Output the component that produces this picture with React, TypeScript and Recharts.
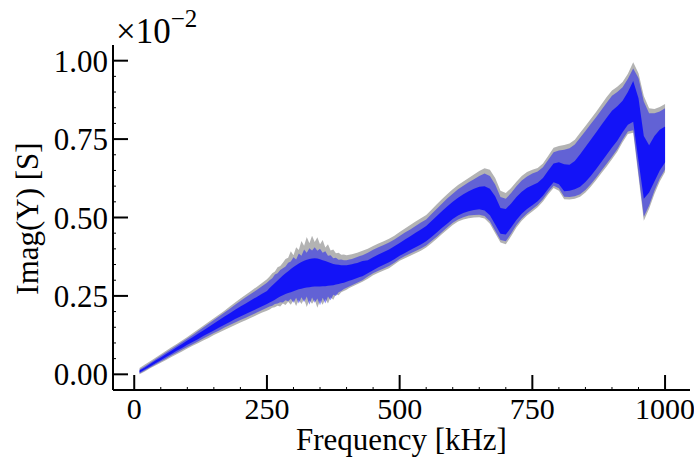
import { ComposedChart, Area, XAxis, YAxis } from "recharts";

// frequency grid [kHz]; finer where the curves are noisy
const freq = [
  10, 20, 30, 40, 50, 60, 70, 80, 90, 100, 110, 120, 130, 140, 150, 160, 170, 180, 190, 200, 210, 220, 230, 240, 250,
  255, 260, 265, 270, 275, 280, 285, 290, 295, 300, 305, 310, 315, 320, 325, 330, 335, 340, 345, 350, 355, 360, 365,
  370, 375, 380, 385, 390, 395, 400, 405, 410, 415, 420, 425, 430,
  440, 450, 460, 470, 480, 490, 500, 510, 520, 530, 540, 550, 560, 570, 580, 590, 600, 610, 620, 630, 640, 650, 660,
  670, 680, 690, 700, 710, 720, 730, 740, 750, 760, 770, 780, 790, 800, 810, 820, 830, 840, 850, 860, 870, 880, 890,
  900, 910, 920, 930, 940, 950, 960, 970, 980, 990, 1000,
];

// grey envelope (x1e-2 S)
const greyLo = [
  0.0, 0.009, 0.019, 0.028, 0.037, 0.046, 0.055, 0.064, 0.073, 0.082, 0.091, 0.099, 0.108, 0.116, 0.125, 0.133, 0.141,
  0.149, 0.157, 0.165, 0.172, 0.18, 0.188, 0.196, 0.203,
  0.207, 0.212, 0.214, 0.219, 0.216, 0.226, 0.221, 0.231, 0.222, 0.236, 0.218, 0.238, 0.224, 0.24, 0.215, 0.236, 0.225,
  0.238, 0.212, 0.236, 0.222, 0.24, 0.226, 0.246, 0.238, 0.255, 0.252, 0.262, 0.266, 0.27, 0.275, 0.279, 0.283, 0.287,
  0.291, 0.295,
  0.305, 0.316, 0.324, 0.331, 0.338, 0.35, 0.362, 0.37, 0.378, 0.386, 0.394, 0.404, 0.418, 0.432, 0.447, 0.462, 0.476,
  0.487, 0.494, 0.498, 0.5, 0.501, 0.497, 0.48, 0.45, 0.42, 0.415, 0.44, 0.468, 0.49, 0.506, 0.519, 0.533, 0.551, 0.574,
  0.594, 0.585, 0.558, 0.557, 0.56, 0.566, 0.58, 0.598, 0.619, 0.641, 0.663, 0.686, 0.71, 0.74, 0.766, 0.77, 0.63, 0.49,
  0.528, 0.575, 0.615, 0.645,
];
const greyHi = [
  0.02, 0.031, 0.042, 0.053, 0.064, 0.075, 0.086, 0.097, 0.108, 0.119, 0.131, 0.143, 0.155, 0.167, 0.179, 0.191, 0.203,
  0.216, 0.229, 0.242, 0.254, 0.266, 0.278, 0.29, 0.303,
  0.312, 0.322, 0.328, 0.341, 0.345, 0.356, 0.368, 0.372, 0.392, 0.38, 0.405, 0.396, 0.425, 0.41, 0.438, 0.418, 0.442,
  0.422, 0.437, 0.415, 0.428, 0.404, 0.415, 0.395, 0.398, 0.386, 0.388, 0.381, 0.382, 0.38, 0.381, 0.383, 0.385, 0.388,
  0.391, 0.394,
  0.4, 0.409, 0.417, 0.424, 0.432, 0.442, 0.454, 0.465, 0.476, 0.487, 0.498, 0.508, 0.525, 0.542, 0.559, 0.575, 0.59,
  0.604, 0.615, 0.626, 0.637, 0.648, 0.657, 0.652, 0.626, 0.585, 0.578, 0.594, 0.614, 0.632, 0.645, 0.652, 0.658, 0.672,
  0.697, 0.722, 0.728, 0.731, 0.736, 0.748, 0.77, 0.792, 0.814, 0.836, 0.86, 0.884, 0.905, 0.917, 0.932, 0.958, 0.995,
  0.96, 0.887, 0.848, 0.846, 0.852, 0.862,
];

// spread of the blue sample curves
const blueLo = [
  0.003, 0.012, 0.022, 0.031, 0.041, 0.05, 0.06, 0.069, 0.078, 0.087, 0.096, 0.105, 0.114, 0.123, 0.132, 0.14, 0.149,
  0.157, 0.165, 0.173, 0.18, 0.188, 0.196, 0.204, 0.212,
  0.216, 0.219, 0.224, 0.226, 0.23, 0.229, 0.236, 0.233, 0.241, 0.228, 0.244, 0.226, 0.246, 0.23, 0.248, 0.222, 0.245,
  0.228, 0.242, 0.22, 0.244, 0.226, 0.248, 0.236, 0.254, 0.25, 0.262, 0.266, 0.272, 0.276, 0.28, 0.284, 0.288, 0.292,
  0.296, 0.3,
  0.312, 0.322, 0.33, 0.337, 0.345, 0.356, 0.368, 0.377, 0.385, 0.393, 0.401, 0.411, 0.425, 0.439, 0.454, 0.469, 0.483,
  0.494, 0.501, 0.506, 0.508, 0.509, 0.505, 0.488, 0.458, 0.428, 0.424, 0.449, 0.476, 0.497, 0.513, 0.526, 0.54, 0.558,
  0.581, 0.601, 0.593, 0.566, 0.565, 0.568, 0.574, 0.588, 0.606, 0.627, 0.649, 0.671, 0.694, 0.718, 0.748, 0.774, 0.778,
  0.64, 0.502, 0.538, 0.585, 0.624, 0.653,
];
const blueHi = [
  0.015, 0.026, 0.037, 0.048, 0.059, 0.07, 0.081, 0.092, 0.103, 0.114, 0.125, 0.137, 0.149, 0.161, 0.173, 0.185, 0.197,
  0.209, 0.222, 0.234, 0.246, 0.257, 0.268, 0.28, 0.292,
  0.3, 0.306, 0.318, 0.322, 0.333, 0.338, 0.344, 0.356, 0.36, 0.373, 0.366, 0.385, 0.378, 0.398, 0.388, 0.402, 0.395,
  0.405, 0.394, 0.4, 0.388, 0.392, 0.378, 0.38, 0.37, 0.372, 0.365, 0.366, 0.364, 0.364, 0.366, 0.368, 0.371, 0.374,
  0.377, 0.38,
  0.388, 0.397, 0.405, 0.412, 0.42, 0.43, 0.441, 0.452, 0.462, 0.473, 0.484, 0.494, 0.511, 0.528, 0.545, 0.561, 0.576,
  0.59, 0.601, 0.612, 0.622, 0.632, 0.64, 0.632, 0.605, 0.565, 0.56, 0.578, 0.6, 0.618, 0.631, 0.64, 0.647, 0.66, 0.684,
  0.708, 0.714, 0.716, 0.721, 0.733, 0.754, 0.776, 0.798, 0.82, 0.843, 0.866, 0.888, 0.9, 0.915, 0.942, 0.975, 0.945,
  0.87, 0.832, 0.832, 0.838, 0.848,
];

// dense core where most curves overlap
const coreLo = [
  0.006, 0.015, 0.025, 0.035, 0.045, 0.055, 0.065, 0.075, 0.084, 0.094, 0.103, 0.112, 0.122, 0.131, 0.14, 0.149, 0.158,
  0.167, 0.176, 0.184, 0.192, 0.2, 0.208, 0.216, 0.224,
  0.229, 0.233, 0.238, 0.243, 0.248, 0.252, 0.256, 0.259, 0.262, 0.265, 0.268, 0.271, 0.273, 0.275, 0.277, 0.278, 0.279,
  0.28, 0.28, 0.28, 0.281, 0.281, 0.282, 0.283, 0.284, 0.286, 0.288, 0.29, 0.292, 0.295, 0.298, 0.301, 0.304, 0.307,
  0.31, 0.313,
  0.322, 0.332, 0.341, 0.349, 0.357, 0.367, 0.378, 0.387, 0.396, 0.405, 0.414, 0.424, 0.438, 0.452, 0.467, 0.481, 0.495,
  0.506, 0.514, 0.52, 0.524, 0.526, 0.522, 0.507, 0.478, 0.448, 0.446, 0.468, 0.492, 0.512, 0.527, 0.539, 0.552, 0.569,
  0.592, 0.612, 0.606, 0.584, 0.585, 0.59, 0.598, 0.613, 0.632, 0.654, 0.677, 0.7, 0.723, 0.745, 0.772, 0.796, 0.805,
  0.68, 0.56, 0.58, 0.615, 0.65, 0.675,
];
const coreHi = [
  0.012, 0.022, 0.033, 0.044, 0.054, 0.065, 0.075, 0.086, 0.097, 0.108, 0.118, 0.129, 0.14, 0.151, 0.162, 0.173, 0.184,
  0.195, 0.206, 0.216, 0.226, 0.236, 0.246, 0.256, 0.266,
  0.275, 0.283, 0.291, 0.299, 0.307, 0.315, 0.322, 0.329, 0.336, 0.342, 0.348, 0.353, 0.358, 0.362, 0.365, 0.368, 0.369,
  0.37, 0.369, 0.367, 0.364, 0.361, 0.358, 0.355, 0.352, 0.35, 0.349, 0.348, 0.348, 0.348, 0.349, 0.351, 0.353, 0.355,
  0.358, 0.361,
  0.364, 0.373, 0.382, 0.39, 0.398, 0.408, 0.419, 0.43, 0.44, 0.451, 0.462, 0.473, 0.489, 0.505, 0.521, 0.536, 0.55,
  0.563, 0.574, 0.584, 0.592, 0.598, 0.6, 0.592, 0.568, 0.53, 0.527, 0.545, 0.565, 0.582, 0.595, 0.603, 0.611, 0.626,
  0.65, 0.672, 0.676, 0.67, 0.668, 0.68, 0.702, 0.725, 0.748, 0.771, 0.795, 0.818, 0.84, 0.855, 0.872, 0.9, 0.935, 0.88,
  0.76, 0.73, 0.76, 0.78, 0.79,
];

const xMajor = [0, 250, 500, 750, 1000];
const xTicks = [0, 50, 100, 150, 200, 250, 300, 350, 400, 450, 500, 550, 600, 650, 700, 750, 800, 850, 900, 950, 1000];
const yMajor = [0, 0.25, 0.5, 0.75, 1];
const yTicks = [0, 0.05, 0.1, 0.15, 0.2, 0.25, 0.3, 0.35, 0.4, 0.45, 0.5, 0.55, 0.6, 0.65, 0.7, 0.75, 0.8, 0.85, 0.9, 0.95, 1];

const data = freq.map((f, i) => ({
  f,
  grey: [greyLo[i], greyHi[i]],
  blue: [blueLo[i], blueHi[i]],
  core: [coreLo[i], coreHi[i]],
}));

const FONT = "'Liberation Serif', 'Times New Roman', serif";

const XTick = ({ x, y, payload }: any) => {
  const major = xMajor.includes(payload.value);
  return (
    <g>
      <line x1={x} x2={x} y1={y} y2={y - (major ? 15 : 3)} stroke="#000" strokeWidth={major ? 2 : 1} />
      {major && (
        <text x={x} y={y + 29} textAnchor="middle" fontSize={30} fontFamily={FONT} fill="#000">
          {payload.value}
        </text>
      )}
    </g>
  );
};

const YTick = ({ x, y, payload }: any) => {
  const major = yMajor.some((v) => Math.abs(v - payload.value) < 1e-9);
  return (
    <g>
      <line x1={x} x2={x + (major ? 15 : 3)} y1={y} y2={y} stroke="#000" strokeWidth={major ? 2 : 1} />
      {major && (
        <text x={x - 5} y={y} dy="0.36em" textAnchor="end" fontSize={31} fontFamily={FONT} fill="#000">
          {payload.value.toFixed(2)}
        </text>
      )}
    </g>
  );
};

const XLabel = ({ viewBox }: any) => {
  const cx = viewBox.x + viewBox.width / 2;
  const cy = viewBox.y + 60;
  return (
    <text x={cx} y={cy} textAnchor="middle" fontSize={31} fontFamily={FONT} fill="#000">
      Frequency [kHz]
    </text>
  );
};

const YLabel = ({ viewBox }: any) => {
  const cx = viewBox.x + 38;
  const cy = viewBox.y + viewBox.height / 2 + 1;
  return (
    <text x={cx} y={cy} transform={`rotate(-90 ${cx} ${cy})`} textAnchor="middle" fontSize={31} fontFamily={FONT} fill="#000">
      Imag(Y) [S]
    </text>
  );
};

export default function App() {
  return (
    <div style={{ position: "absolute", left: 0, top: 0, width: 694, height: 464, background: "#fff" }}>
      <ComposedChart width={694} height={464} data={data} margin={{ top: 45, right: 4, bottom: 0, left: 0 }}>
        <XAxis
          dataKey="f"
          type="number"
          domain={[-40, 1047]}
          allowDataOverflow
          ticks={xTicks}
          interval={0}
          height={74}
          tickSize={0}
          tickMargin={0}
          tickLine={false}
          tick={<XTick />}
          axisLine={{ stroke: "#000", strokeWidth: 2 }}
          label={<XLabel />}
        />
        <YAxis
          type="number"
          domain={[-0.05, 1.05]}
          allowDataOverflow
          ticks={yTicks}
          interval={0}
          width={113}
          tickSize={0}
          tickMargin={0}
          tickLine={false}
          tick={<YTick />}
          axisLine={{ stroke: "#000", strokeWidth: 2 }}
          label={<YLabel />}
        />
        <Area type="linear" dataKey="grey" stroke="none" fill="#b3b3b3" fillOpacity={1} isAnimationActive={false} />
        <Area type="linear" dataKey="blue" stroke="none" fill="#0000ff" fillOpacity={0.45} isAnimationActive={false} />
        <Area type="linear" dataKey="core" stroke="none" fill="#0000ff" fillOpacity={0.8} isAnimationActive={false} />
      </ComposedChart>
      <svg width={694} height={464} style={{ position: "absolute", left: 0, top: 0, pointerEvents: "none" }}>
        <text x={116} y={43} fontFamily={FONT} fill="#000" style={{ fontSize: 35 }}>
          ×10
          <tspan dy={-16} style={{ fontSize: 25 }}>
            −2
          </tspan>
        </text>
      </svg>
    </div>
  );
}
